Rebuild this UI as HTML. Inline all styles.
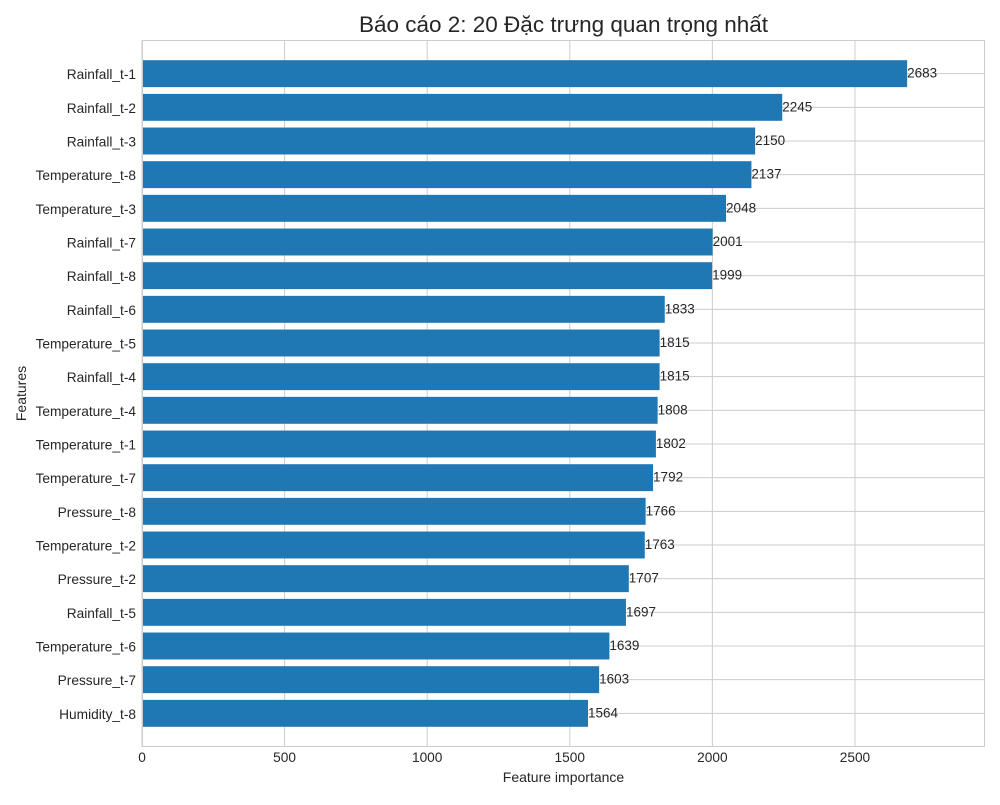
<!DOCTYPE html>
<html><head><meta charset="utf-8"><style>
body{margin:0;background:#fff;font-family:"Liberation Sans","Noto Sans CJK SC",sans-serif;}
svg text{font-family:"Liberation Sans","Noto Sans CJK SC",sans-serif;}
</style></head><body>
<svg id="chart" width="1000" height="800" xmlns="http://www.w3.org/2000/svg"></svg>
<script>
const categories=["Rainfall_t-1","Rainfall_t-2","Rainfall_t-3","Temperature_t-8","Temperature_t-3","Rainfall_t-7","Rainfall_t-8","Rainfall_t-6","Temperature_t-5","Rainfall_t-4","Temperature_t-4","Temperature_t-1","Temperature_t-7","Pressure_t-8","Temperature_t-2","Pressure_t-2","Rainfall_t-5","Temperature_t-6","Pressure_t-7","Humidity_t-8"];
const values=[2683,2245,2150,2137,2048,2001,1999,1833,1815,1815,1808,1802,1792,1766,1763,1707,1697,1639,1603,1564];
const xTicks=[0,500,1000,1500,2000,2500];
const svg=document.getElementById('chart');
const NS='http://www.w3.org/2000/svg';
const L=142,R=985,T=40,B=747;
const xMax=2956;
const x=v=>L+v/xMax*(R-L);
const step=(B-T)/(categories.length+1);
const y=i=>T+step*(i+1);
function mk(tag,attrs,txt){const e=document.createElementNS(NS,tag);for(const k in attrs)e.setAttribute(k,attrs[k]);if(txt!==undefined)e.textContent=txt;svg.appendChild(e);return e;}
xTicks.forEach(t=>{const g=mk('line',{x1:x(t),x2:x(t),y1:T,y2:B,stroke:'#cccccc','stroke-width':1});

});
categories.forEach((c,i)=>{const g=mk('line',{x1:L,x2:R,y1:y(i),y2:y(i),stroke:'#cccccc','stroke-width':1});

});
categories.forEach((c,i)=>{
const bh=step*0.8;
const b=mk('rect',{x:L,y:y(i)-bh/2,width:x(values[i])-L,height:bh,fill:'#1f77b4'});


const vt=mk('text',{x:x(values[i]),y:y(i)+4,'font-size':13.5,fill:'#262626'},String(values[i]));


const lt=mk('text',{x:L-6,y:y(i)+5.5,'font-size':13.7,fill:'#262626','text-anchor':'end'},c);


});
const frame=mk('rect',{x:L+0.5,y:T+0.5,width:R-L-1,height:B-T-1,fill:'none',stroke:'#cccccc','stroke-width':1});


xTicks.forEach(t=>{const tt=mk('text',{x:x(t),y:B+15,'font-size':13.7,fill:'#262626','text-anchor':'middle'},String(t));

});
const xt=mk('text',{x:(L+R)/2,y:782,'font-size':14,fill:'#262626','text-anchor':'middle'},'Feature importance');


const yt=mk('text',{x:26,y:(T+B)/2,'font-size':14,fill:'#262626','text-anchor':'middle',transform:'rotate(-90 26 '+((T+B)/2)+')'},'Features');


const ti=mk('text',{x:(L+R)/2,y:32,'font-size':22.5,fill:'#262626','text-anchor':'middle'},'Báo cáo 2: 20 Đặc trưng quan trọng nhất');


</script>
</body></html>
